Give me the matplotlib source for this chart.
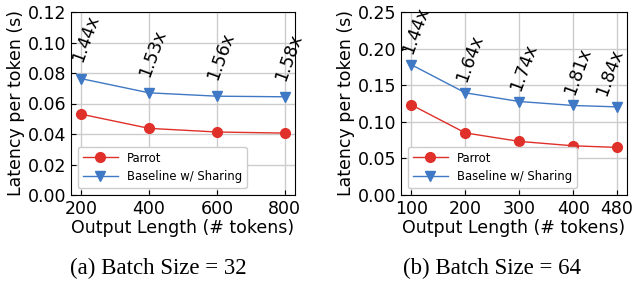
import matplotlib
matplotlib.use("Agg")
import matplotlib.pyplot as plt

# batch size 32
len_a = [200, 400, 600, 800]
parrot_a = [0.053, 0.0437, 0.0413, 0.0406]
base_a = [0.0763, 0.0670, 0.0648, 0.0644]
speedup_a = ["1.44x", "1.53x", "1.56x", "1.58x"]

# batch size 64
len_b = [100, 200, 300, 400, 480]
parrot_b = [0.1232, 0.0848, 0.0732, 0.0672, 0.0650]
base_b = [0.1780, 0.1396, 0.1277, 0.1223, 0.1204]
speedup_b = ["1.44x", "1.64x", "1.74x", "1.81x", "1.84x"]

RED = "#e0302a"
BLUE = "#3f78c4"

plt.rcParams["font.family"] = "DejaVu Sans"

fig = plt.figure(figsize=(6.34, 2.81), dpi=100)
ax1 = fig.add_axes([71 / 634, 86 / 281, 224 / 634, 183 / 281])
ax2 = fig.add_axes([401 / 634, 86 / 281, 226 / 634, 183 / 281])


def draw(ax, x, parrot, base, labels, ymax, yticks, off):
    ax.plot(x, parrot, "-o", color=RED, markersize=7, lw=1, label="Parrot")
    ax.plot(x, base, "-v", color=BLUE, markersize=7, lw=1, label="Baseline w/ Sharing")
    for i, (xi, yi, s) in enumerate(zip(x, base, labels)):
        # last label pulled left so it stays inside the figure
        dx = -5 if (i == len(x) - 1 and len(x) == 5) else 3
        ax.annotate(s, (xi, yi), xytext=(dx, off), textcoords="offset points",
                    ha="center", va="bottom", rotation=70, fontsize=12.5)
    ax.set_ylim(0, ymax)
    ax.set_yticks(yticks)
    ax.set_xticks(x)
    ax.tick_params(direction="in", labelsize=12.5)
    ax.grid(True, color="#cccccc", lw=1)
    ax.set_axisbelow(True)
    ax.set_xlabel("Output Length (# tokens)", fontsize=12.5, labelpad=1)
    ax.set_ylabel("Latency per token (s)", fontsize=12.5, labelpad=2)
    ax.legend(loc="lower left", fontsize=8.4, handlelength=3, borderpad=0.4,
              labelspacing=0.5, framealpha=1, borderaxespad=0.6)


draw(ax1, len_a, parrot_a, base_a, speedup_a, 0.12,
     [0, 0.02, 0.04, 0.06, 0.08, 0.10, 0.12], 10)
ax1.set_yticklabels(["0.00", "0.02", "0.04", "0.06", "0.08", "0.10", "0.12"])
draw(ax2, len_b, parrot_b, base_b, speedup_b, 0.25,
     [0, 0.05, 0.10, 0.15, 0.20, 0.25], 6)
ax2.set_yticklabels(["0.00", "0.05", "0.10", "0.15", "0.20", "0.25"])

fig.text(158 / 634, 1 - 268 / 281, "(a) Batch Size = 32", ha="center", va="center",
         family="Liberation Serif", fontsize=16.5)
fig.text(492 / 634, 1 - 268 / 281, "(b) Batch Size = 64", ha="center", va="center",
         family="Liberation Serif", fontsize=16.5)

fig.savefig("out.png", dpi=100)
